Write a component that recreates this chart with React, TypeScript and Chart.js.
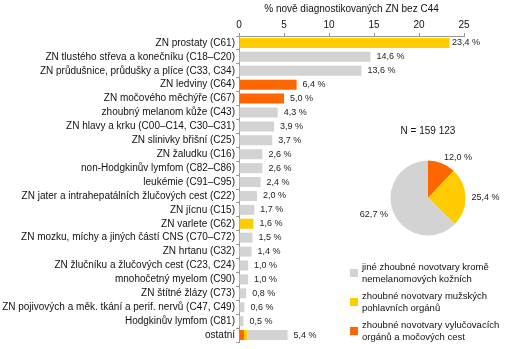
import React, { useEffect, useRef } from 'react';
import { Chart, registerables } from 'chart.js';

Chart.register(...registerables);

const FONT = '"Liberation Sans", Arial, sans-serif';
const GRAY = '#D3D3D3';
const YELLOW = '#FFCC00';
const ORANGE = '#FF6600';

const categories = [
  'ZN prostaty (C61)',
  'ZN tlustého střeva a konečníku (C18–C20)',
  'ZN průdušnice, průdušky a plíce (C33, C34)',
  'ZN ledviny (C64)',
  'ZN močového měchýře (C67)',
  'zhoubný melanom kůže (C43)',
  'ZN hlavy a krku (C00–C14, C30–C31)',
  'ZN slinivky břišní (C25)',
  'ZN žaludku (C16)',
  'non-Hodgkinův lymfom (C82–C86)',
  'leukémie (C91–C95)',
  'ZN jater a intrahepatálních žlučových cest (C22)',
  'ZN jícnu (C15)',
  'ZN varlete (C62)',
  'ZN mozku, míchy a jiných částí CNS (C70–C72)',
  'ZN hrtanu (C32)',
  'ZN žlučníku a žlučových cest (C23, C24)',
  'mnohočetný myelom (C90)',
  'ZN štítné žlázy (C73)',
  'ZN pojivových a měk. tkání a perif. nervů (C47, C49)',
  'Hodgkinův lymfom (C81)',
  'ostatní',
];

const grayValues = [null, 14.6, 13.6, null, null, 4.3, 3.9, 3.7, 2.6, 2.6, 2.4, 2.0, 1.7, null, 1.5, 1.4, 1.0, 1.0, 0.8, 0.6, 0.5, 4.45];
const yellowValues = [23.4, null, null, null, null, null, null, null, null, null, null, null, null, 1.6, null, null, null, null, null, null, null, 0.4];
const orangeValues = [null, null, null, 6.4, 5.0, null, null, null, null, null, null, null, null, null, null, null, null, null, null, null, null, 0.55];
const totalValues = [23.4, 14.6, 13.6, 6.4, 5.0, 4.3, 3.9, 3.7, 2.6, 2.6, 2.4, 2.0, 1.7, 1.6, 1.5, 1.4, 1.0, 1.0, 0.8, 0.6, 0.5, 5.4];

const xTickMin = 0;
const xTickMax = 25;
const xTickStep = 5;
const xTitle = '% nově diagnostikovaných ZN bez C44';

const pieLabels = [
  'zhoubné novotvary vylučovacích orgánů a močových cest',
  'zhoubné novotvary mužských pohlavních orgánů',
  'jiné zhoubné novotvary kromě nemelanomových kožních',
];
const pieValues = [12.0, 25.4, 62.7];
const pieColors = [ORANGE, YELLOW, GRAY];
const pieTitle = 'N = 159 123';

const legendItems = [
  { color: GRAY, lines: ['jiné zhoubné novotvary kromě', 'nemelanomových kožních'] },
  { color: YELLOW, lines: ['zhoubné novotvary mužských', 'pohlavních orgánů'] },
  { color: ORANGE, lines: ['zhoubné novotvary vylučovacích', 'orgánů a močových cest'] },
];

const fmt = (v: number) => v.toFixed(1).replace('.', ',') + ' %';

const barValuePlugin = {
  id: 'barValueLabels',
  afterDatasetsDraw(chart: any) {
    const ctx = chart.ctx;
    const xs = chart.scales.x;
    const ys = chart.scales.y;
    ctx.save();
    ctx.font = `9px ${FONT}`;
    ctx.fillStyle = '#222';
    ctx.textAlign = 'left';
    ctx.textBaseline = 'middle';
    totalValues.forEach((v, i) => {
      const x = Math.min(xs.getPixelForValue(v) + 6, chart.chartArea.right - 12);
      const y = ys.getPixelForValue(i);
      ctx.fillText(fmt(v), x, y);
    });
    ctx.restore();
  },
};

const pieLabelPlugin = {
  id: 'pieLabels',
  afterDatasetsDraw(chart: any) {
    const ctx = chart.ctx;
    const meta = chart.getDatasetMeta(0);
    ctx.save();
    ctx.font = `9px ${FONT}`;
    ctx.fillStyle = '#222';
    ctx.textBaseline = 'middle';
    meta.data.forEach((arc: any, i: number) => {
      const mid = (arc.startAngle + arc.endAngle) / 2;
      const r = arc.outerRadius + 6;
      const x = arc.x + Math.cos(mid) * r;
      const y = arc.y + Math.sin(mid) * r;
      ctx.textAlign = Math.cos(mid) >= 0 ? 'left' : 'right';
      ctx.fillText(fmt(pieValues[i]), x, y);
    });
    ctx.restore();
  },
};

export default function App() {
  const barRef = useRef<HTMLCanvasElement>(null);
  const pieRef = useRef<HTMLCanvasElement>(null);

  useEffect(() => {
    const bar = new Chart(barRef.current as HTMLCanvasElement, {
      type: 'bar',
      data: {
        labels: categories,
        datasets: [
          { label: 'orange', data: orangeValues as any, backgroundColor: ORANGE, barPercentage: 0.72, categoryPercentage: 1 },
          { label: 'yellow', data: yellowValues as any, backgroundColor: YELLOW, barPercentage: 0.72, categoryPercentage: 1 },
          { label: 'gray', data: grayValues as any, backgroundColor: GRAY, barPercentage: 0.72, categoryPercentage: 1 },
        ],
      },
      options: {
        indexAxis: 'y',
        responsive: false,
        animation: false,
        devicePixelRatio: 1,
        layout: { padding: { left: 0, right: 46, top: 0, bottom: 6 } },
        plugins: { legend: { display: false }, tooltip: { enabled: false } },
        scales: {
          x: {
            position: 'top',
            stacked: true,
            min: xTickMin,
            max: xTickMax,
            ticks: { stepSize: xTickStep, font: { family: FONT, size: 10 }, color: '#111', padding: 2 },
            grid: { drawOnChartArea: false, tickLength: 3, color: '#999' },
            border: { color: '#999' },
            title: { display: true, text: xTitle, font: { family: FONT, size: 10 }, color: '#111', padding: { top: 3, bottom: 0 } },
            afterFit: (s: any) => { s.height = 36; },
          },
          y: {
            stacked: true,
            ticks: { font: { family: FONT, size: 10 }, color: '#111', padding: 1, autoSkip: false },
            grid: { drawOnChartArea: false, tickLength: 3, color: '#999' },
            border: { color: '#999' },
            afterFit: (s: any) => { s.width = 239; },
          },
        },
      } as any,
      plugins: [barValuePlugin],
    });

    const pie = new Chart(pieRef.current as HTMLCanvasElement, {
      type: 'pie',
      data: {
        labels: pieLabels,
        datasets: [{ data: pieValues, backgroundColor: pieColors, borderWidth: 0 }],
      },
      options: {
        responsive: false,
        animation: false,
        devicePixelRatio: 1,
        layout: { padding: { left: 42.5, right: 42.5, top: 0, bottom: 14.5 } },
        plugins: {
          legend: { display: false },
          tooltip: { enabled: false },
          title: {
            display: true,
            text: pieTitle,
            font: { family: FONT, size: 10, weight: 'normal' },
            color: '#111',
            padding: { top: 0, bottom: 23.5 },
          },
        },
      } as any,
      plugins: [pieLabelPlugin],
    });

    return () => {
      bar.destroy();
      pie.destroy();
    };
  }, []);

  return (
    <div style={{ position: 'absolute', left: 0, top: 0, width: 510, height: 349, background: '#fff', fontFamily: FONT }}>
      <canvas ref={barRef} width={510} height={349} style={{ position: 'absolute', left: 0, top: 0 }} />
      <canvas ref={pieRef} width={160} height={125} style={{ position: 'absolute', left: 348, top: 125 }} />
      {legendItems.map((it, i) => (
        <div
          key={i}
          style={{
            position: 'absolute',
            left: 350,
            top: 261 + i * 29,
            display: 'flex',
            alignItems: 'center',
            fontSize: 9.5,
            lineHeight: '12px',
            color: '#111',
          }}
        >
          <div style={{ width: 8, height: 8, background: it.color, marginRight: 4, flex: 'none' }} />
          <div>
            {it.lines.map((l, j) => (
              <div key={j} style={{ whiteSpace: 'nowrap' }}>{l}</div>
            ))}
          </div>
        </div>
      ))}
    </div>
  );
}
